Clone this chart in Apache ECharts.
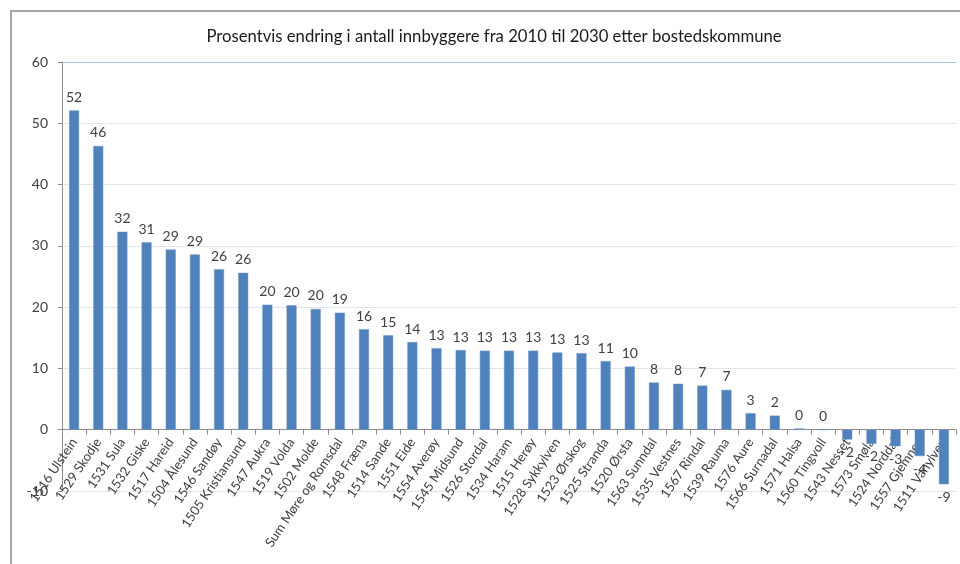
<!DOCTYPE html>
<html>
<head>
<meta charset="utf-8">
<script src="https://cdn.jsdelivr.net/npm/echarts@6/dist/echarts.min.js"></script>
<style>
  html, body { margin: 0; padding: 0; background: #ffffff; }
  #chart { width: 960px; height: 564px; }
</style>
</head>
<body>
<div id="chart"></div>
<script>
// Prosentvis endring i antall innbyggere 2010–2030, per kommune
const chartTitle = 'Prosentvis endring i antall innbyggere fra 2010 til 2030 etter bostedskommune';

const kommuner = [
  '1516 Ulstein', '1529 Skodje', '1531 Sula', '1532 Giske', '1517 Hareid',
  '1504 Ålesund', '1546 Sandøy', '1505 Kristiansund', '1547 Aukra', '1519 Volda',
  '1502 Molde', 'Sum Møre og Romsdal', '1548 Fræna', '1514 Sande', '1551 Eide',
  '1554 Averøy', '1545 Midsund', '1526 Stordal', '1534 Haram', '1515 Herøy',
  '1528 Sykkylven', '1523 Ørskog', '1525 Stranda', '1520 Ørsta', '1563 Sunndal',
  '1535 Vestnes', '1567 Rindal', '1539 Rauma', '1576 Aure', '1566 Surnadal',
  '1571 Halsa', '1560 Tingvoll', '1543 Nesset', '1573 Smøla', '1524 Norddal',
  '1557 Gjemnes', '1511 Vanylven'
];

const endringProsent = [
  52.1, 46.3, 32.3, 30.6, 29.4,
  28.6, 26.2, 25.6, 20.4, 20.3,
  19.7, 19.1, 16.4, 15.4, 14.3,
  13.3, 13.0, 12.9, 12.9, 12.9,
  12.6, 12.5, 11.2, 10.3, 7.7,
  7.5, 7.2, 6.5, 2.7, 2.3,
  0.2, 0.0, -1.6, -2.3, -2.7,
  -4.3, -8.9
];

const yTicks = { min: -10, max: 60, step: 10 };

const FONT = 'Lato, "Open Sans", sans-serif';
const TEXT = '#404040';

// Plot box (px) – the category axis sits on the zero line, one step above the bottom
const GRID = { left: 62, right: 4, top: 62, bottom: 73 };
const plotHeight = 564 - GRID.top - GRID.bottom;
const zeroOffset = plotHeight * (0 - yTicks.min) / (yTicks.max - yTicks.min);

const chart = echarts.init(document.getElementById('chart'), null, { renderer: 'canvas' });

// Negative bars carry their label below the bar end
const barData = endringProsent.map(v => ({
  value: v,
  label: { position: v < 0 ? 'bottom' : 'top' }
}));

chart.setOption({
  backgroundColor: '#ffffff',
  animation: false,
  title: {
    text: chartTitle,
    left: 489,
    top: 23,
    textAlign: 'center',
    textStyle: { fontFamily: FONT, fontSize: 16.7, fontWeight: 'normal', color: '#1a1a1a' }
  },
  graphic: [{
    type: 'rect',
    silent: true,
    z: 100,
    shape: { x: 11, y: 11, width: 1000, height: 700 },
    style: { fill: 'none', stroke: '#8a8a8a', lineWidth: 1.5 }
  }],
  grid: {
    left: GRID.left, right: GRID.right, top: GRID.top, bottom: GRID.bottom,
    containLabel: false,
    outerBoundsMode: 'none'
  },
  xAxis: {
    type: 'category',
    data: kommuner,
    position: 'bottom',
    offset: -zeroOffset,
    axisLine: { onZero: false, lineStyle: { color: '#8c8c8c', width: 1 } },
    axisTick: { show: true, alignWithLabel: false, length: 5, lineStyle: { color: '#8c8c8c' } },
    axisLabel: {
      interval: 0,
      rotate: 56,
      margin: 10,
      fontFamily: FONT,
      fontSize: 13,
      color: TEXT
    }
  },
  yAxis: {
    type: 'value',
    min: yTicks.min,
    max: yTicks.max,
    interval: yTicks.step,
    axisLine: { show: true, lineStyle: { color: '#8c8c8c' } },
    axisTick: { show: true, inside: false, length: 4, lineStyle: { color: '#8c8c8c' } },
    axisLabel: { margin: 14, fontFamily: FONT, fontSize: 14, color: TEXT },
    splitLine: {
      show: true,
      lineStyle: {
        color: ['#dfe6f1', '#dfe6f1', '#dfe6f1', '#dfe6f1', '#dfe6f1', '#dfe6f1', '#dfe6f1', '#a8c3e6'],
        width: 1
      }
    }
  },
  series: [{
    type: 'bar',
    data: barData,
    barWidth: 10,
    itemStyle: { color: '#4f81bd', borderColor: '#6f97c9', borderWidth: 0.5 },
    label: {
      show: true,
      distance: 6,
      fontFamily: FONT,
      fontSize: 14,
      color: TEXT,
      formatter: p => String(Math.round(p.value))
    }
  }]
});
</script>
</body>
</html>
